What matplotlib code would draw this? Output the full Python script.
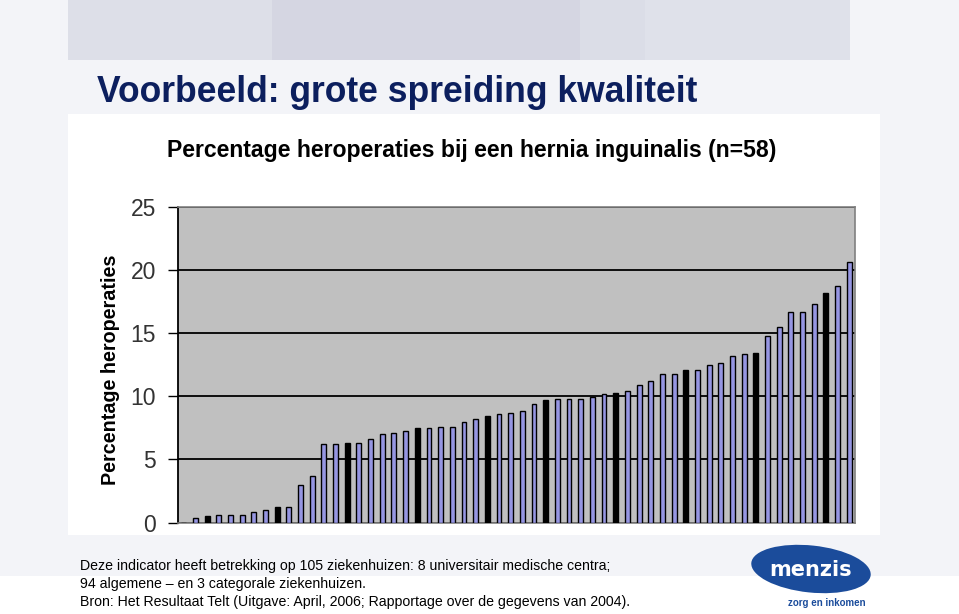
import matplotlib
matplotlib.use("Agg")
import matplotlib.pyplot as plt
from matplotlib.patches import Rectangle, Ellipse

# ---------------- data ----------------
slide_title = "Voorbeeld: grote spreiding kwaliteit"
chart_title = "Percentage heroperaties bij een hernia inguinalis (n=58)"
y_label = "Percentage heroperaties"
y_ticks = [0, 5, 10, 15, 20, 25]
values = [0, 0.35, 0.5, 0.61, 0.61, 0.61, 0.85, 0.98, 1.22, 1.22,
          2.93, 3.64, 6.18, 6.18, 6.3, 6.28, 6.63, 7.0, 7.12, 7.25,
          7.49, 7.49, 7.59, 7.59, 7.96, 8.2, 8.45, 8.57, 8.68, 8.8,
          9.41, 9.68, 9.76, 9.76, 9.76, 9.95, 10.15, 10.28, 10.37, 10.85,
          11.22, 11.72, 11.72, 12.1, 12.1, 12.45, 12.59, 13.18, 13.31, 13.42,
          14.74, 15.47, 16.65, 16.65, 17.28, 18.12, 18.69, 20.62]
highlighted = [2, 8, 14, 20, 26, 31, 37, 43, 49, 55]
footnote = ["Deze indicator heeft betrekking op 105 ziekenhuizen: 8 universitair medische centra;",
            "94 algemene \u2013 en 3 categorale ziekenhuizen.",
            "Bron: Het Resultaat Telt (Uitgave: April, 2006; Rapportage over de gegevens van 2004)."]

W, H = 959, 614
fig = plt.figure(figsize=(W / 100, H / 100), dpi=100)
fig.patch.set_facecolor("white")

# background axes in pixel coordinates
bg = fig.add_axes([0, 0, 1, 1], zorder=0)
bg.set_xlim(0, W)
bg.set_ylim(H, 0)
bg.axis("off")

bg.add_patch(Rectangle((0, 0), W, 576, color="#F3F4F8", lw=0))
for x0, x1, c in [(68, 272, "#DDDFE8"), (272, 580, "#D5D6E2"),
                  (580, 645, "#DBDDE7"), (645, 850, "#DFE1EA")]:
    bg.add_patch(Rectangle((x0, 0), x1 - x0, 60, color=c, lw=0))
bg.add_patch(Rectangle((68, 114), 880 - 68, 535 - 114, color="white", lw=0))

sans = ["Liberation Sans", "DejaVu Sans"]
bg.text(97, 92, slide_title, fontsize=25.6, fontweight="bold", family=sans,
        color="#0C1F5E", ha="left", va="center")
bg.text(472, 150, chart_title, fontsize=16.6, fontweight="bold", family=sans,
        color="black", ha="center", va="center")
bg.text(110, 370, y_label, fontsize=14.2, fontweight="bold", family=sans,
        color="black", ha="center", va="center", rotation=90)

for i, line in enumerate(footnote):
    bg.text(80, 566 + i * 18, line, fontsize=10.15, family=sans,
            color="black", ha="left", va="center")

# logo
bg.add_patch(Ellipse((811, 569), 120, 47, angle=6, color="#1B4C9B", lw=0))
bg.text(811, 570, "menzis", fontsize=15, fontweight="bold", color="white",
        family=["DejaVu Sans"], ha="center", va="center")
bg.text(827, 603, "zorg en inkomen", fontsize=7.0, fontweight="bold", color="#1B4C9B",
        family=sans, ha="center", va="center")

# chart axes
left, right = 178 / W, 855 / W
bottom, top = 1 - 522.5 / H, 1 - 206.5 / H
ax = fig.add_axes([left, bottom, right - left, top - bottom], zorder=1)
ax.set_facecolor("#C0C0C0")

x = list(range(len(values)))
colors = ["black" if i in highlighted else "#9696E2" for i in x]
ax.bar(x, values, width=0.42, color=colors, edgecolor="black", linewidth=1.0, zorder=3)

ax.set_xlim(-0.5, len(values) - 0.5)
ax.set_ylim(0, 25)
ax.set_yticks(y_ticks)
ax.set_yticklabels([str(t) for t in y_ticks], fontsize=16.5, family=sans)
ax.tick_params(axis="y", direction="out", length=7, width=1, pad=9, colors="black")
for lab in ax.get_yticklabels():
    lab.set_color("#333333")
ax.set_xticks([])
ax.yaxis.grid(True, color="black", linewidth=1.3, zorder=1)
ax.set_axisbelow(True)
for s in ["top", "right", "bottom"]:
    ax.spines[s].set_color("#808080")
    ax.spines[s].set_linewidth(1.2)
ax.spines["left"].set_color("black")
ax.spines["left"].set_linewidth(1.3)

fig.savefig("out.png", dpi=100)
